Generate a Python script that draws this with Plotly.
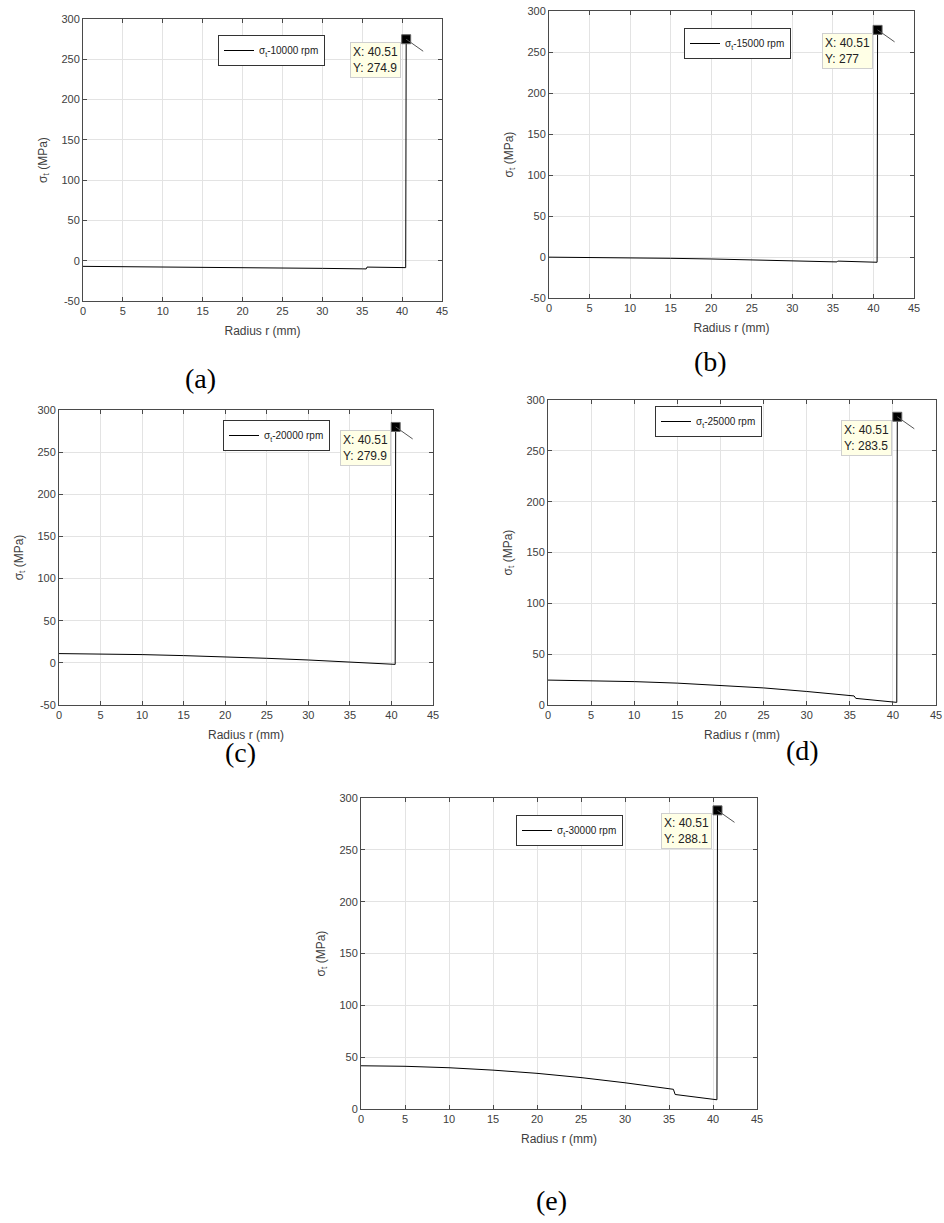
import plotly.graph_objects as go

W, H = 944, 1223
OFF = 0  # body margin removed by post_script below

# ---------------- data ----------------
speeds = ["10000", "15000", "20000", "25000", "30000"]
panel_labels = ["(a)", "(b)", "(c)", "(d)", "(e)"]

r_a = [0, 5, 10, 15, 20, 25, 30, 35, 35.5, 35.6, 40.45, 40.51]
sig_a = [-7.0, -7.3, -7.7, -8.1, -8.6, -9.0, -9.5, -10.1, -10.2, -7.9, -8.6, 274.9]

r_b = [0, 5, 10, 15, 20, 25, 30, 35, 35.5, 35.6, 40.45, 40.51]
sig_b = [-0.2, -0.5, -1.0, -1.6, -2.4, -3.3, -4.5, -5.8, -6.0, -5.0, -6.4, 277.0]

r_c = [0, 5, 10, 15, 20, 25, 30, 35, 35.5, 35.6, 40.45, 40.51]
sig_c = [11.0, 10.7, 9.8, 8.6, 7.2, 5.4, 3.4, 1.0, 0.7, 0.8, -1.8, 279.9]

r_d = [0, 5, 10, 15, 20, 25, 30, 35, 35.5, 35.7, 40.45, 40.51]
sig_d = [24.5, 24.1, 23.0, 21.5, 19.5, 16.8, 13.3, 9.5, 8.9, 6.5, 2.6, 283.5]

r_e = [0, 5, 10, 15, 20, 25, 30, 35, 35.5, 35.7, 40.45, 40.51]
sig_e = [41.7, 41.2, 39.8, 37.5, 34.4, 30.3, 25.3, 19.6, 19.0, 14.0, 8.9, 288.1]

tip_x = [40.51, 40.51, 40.51, 40.51, 40.51]
tip_y = [274.9, 277, 279.9, 283.5, 288.1]
tip_y_text = ["274.9", "277", "279.9", "283.5", "288.1"]

x_ticks = [0, 5, 10, 15, 20, 25, 30, 35, 40, 45]
y_ticks_neg = [-50, 0, 50, 100, 150, 200, 250, 300]
y_ticks_neg_text = ["-50", "0", "50", "100", "150", "200", "250", "300"]
y_ticks_pos = [0, 50, 100, 150, 200, 250, 300]
y_ticks_pos_text = ["0", "50", "100", "150", "200", "250", "300"]

y_ranges = [[-50, 300], [-50, 300], [-50, 300], [0, 300], [0, 300]]
x_range = [0, 45]

series_r = [r_a, r_b, r_c, r_d, r_e]
series_s = [sig_a, sig_b, sig_c, sig_d, sig_e]

# ---------------- layout (pixel boxes, page coordinates) ----------------
boxes = [(83, 442, 19, 301), (549, 914, 11, 298), (59, 433, 410, 705),
         (548, 936, 400, 705), (361, 757, 798, 1109)]
leg_pos = [(218, 35), (684, 28), (223, 420), (655, 406), (516, 815)]
lab_pos = [(200, 379), (710, 362), (240, 753), (802, 750), (551, 1200)]


def px(x):
    return (x - OFF) / W


def py(y):
    return 1 - (y - OFF) / H


fig = go.Figure()
layout = {}
AX = "#4a4a4a"
GRID = "#e3e3e3"
FAM = "Liberation Sans, Arial, sans-serif"
TICKF = dict(family=FAM, size=11, color="#404040")

for i in range(5):
    k = "" if i == 0 else str(i + 1)
    l, rr, t, b = boxes[i]
    xd = [px(l), px(rr)]
    yd = [py(b), py(t)]
    legname = "legend" if i == 0 else f"legend{i+1}"
    fig.add_trace(go.Scatter(
        x=series_r[i], y=series_s[i], mode="lines",
        line=dict(color="black", width=1),
        name=f"σ<sub>t</sub>-{speeds[i]} rpm",
        xaxis=f"x{k}", yaxis=f"y{k}", legend=legname, showlegend=True))
    fig.add_trace(go.Scatter(
        x=[tip_x[i]], y=[tip_y[i]], mode="markers",
        marker=dict(symbol="square", size=9, color="black",
                    line=dict(color="#666", width=1)),
        xaxis=f"x{k}", yaxis=f"y{k}", showlegend=False, hoverinfo="skip"))
    common = dict(showline=True, linecolor=AX, linewidth=1, mirror="allticks",
                  ticks="inside", ticklen=4, tickcolor=AX, showgrid=True,
                  gridcolor=GRID, zeroline=False, tickfont=TICKF, automargin=False,
                  ticklabeloverflow="allow")
    if y_ranges[i][0] < 0:
        yt, ytt = y_ticks_neg, y_ticks_neg_text
    else:
        yt, ytt = y_ticks_pos, y_ticks_pos_text
    layout[f"xaxis{k}"] = dict(domain=xd, range=x_range, tickvals=x_ticks,
                               ticktext=[str(v) for v in x_ticks],
                               anchor=f"y{k}",
                               title=dict(text="Radius r (mm)", standoff=10,
                                          font=dict(family=FAM, size=12, color="#404040")),
                               **common)
    layout[f"yaxis{k}"] = dict(domain=yd, range=y_ranges[i], tickvals=yt, ticktext=ytt,
                               anchor=f"x{k}",
                               title=dict(text="σ<sub>t</sub> (MPa)", standoff=11,
                                          font=dict(family=FAM, size=12, color="#404040")),
                               **common)
    lx, ly = leg_pos[i]
    layout[legname] = dict(x=px(lx), y=py(ly), xanchor="left", yanchor="top",
                           bgcolor="white", bordercolor="#333", borderwidth=1,
                           font=dict(family=FAM, size=10, color="#222"),
                           itemwidth=30, tracegroupgap=0)

annotations = []
shapes = []
for i in range(5):
    k = "" if i == 0 else str(i + 1)
    annotations.append(dict(
        x=tip_x[i], y=tip_y[i], xref=f"x{k}", yref=f"y{k}",
        text=f"X: {tip_x[i]:.2f}<br>Y: {tip_y_text[i]}", showarrow=False,
        xanchor="right", yanchor="top", xshift=-5, yshift=-3, align="left",
        bgcolor="#ffffe6", bordercolor="#cfcfcf", borderwidth=1, borderpad=2,
        font=dict(family=FAM, size=12, color="#222")))
    shapes.append(dict(type="line", xref=f"x{k}", yref=f"y{k}",
                       xsizemode="pixel", ysizemode="pixel",
                       xanchor=tip_x[i], yanchor=tip_y[i],
                       x0=0, y0=0, x1=17, y1=-12,
                       line=dict(color="#555", width=1)))
    cx, cy = lab_pos[i]
    annotations.append(dict(
        x=px(cx), y=py(cy), xref="paper", yref="paper", text=panel_labels[i],
        showarrow=False, xanchor="center", yanchor="middle",
        font=dict(family="Liberation Serif, Times New Roman, serif", size=28, color="black")))

fig.update_layout(width=W, height=H, margin=dict(l=0, r=0, t=0, b=0, autoexpand=False),
                  paper_bgcolor="white", plot_bgcolor="white",
                  annotations=annotations, shapes=shapes, **layout)

fig.write_html("out.html", config={"displayModeBar": False},
               post_script="document.body.style.margin='0';document.body.style.overflow='hidden';")
